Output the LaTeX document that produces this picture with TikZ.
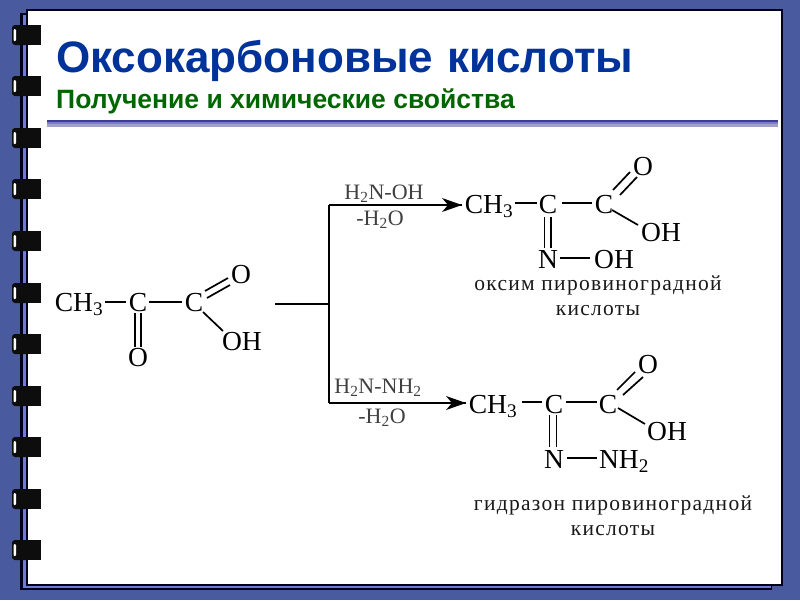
\documentclass[tikz,border=0pt]{standalone}
\usepackage{fontspec}
\setmainfont{Liberation Serif}
\newfontfamily\sansb{Liberation Sans}
\newfontfamily\capfont[LetterSpace=6]{Liberation Serif}
\definecolor{frameblue}{HTML}{4A5A9E}
\definecolor{inner}{HTML}{6E7AD6}
\definecolor{edge}{HTML}{00001E}
\definecolor{ruledark}{HTML}{3C3C96}
\definecolor{rulemid}{HTML}{7C7CC8}
\definecolor{rulelow}{HTML}{A0A0C8}
\definecolor{titleblue}{HTML}{003399}
\definecolor{subgreen}{HTML}{006600}
\tikzset{
  x=1pt,y=-1pt,
  chem/.style={font=\fontsize{27.5}{30}\selectfont,inner sep=0pt,text=black,anchor=base},
  reag/.style={font=\fontsize{22}{24}\selectfont,inner sep=0pt,text=black!75,anchor=base},
  capt/.style={font=\capfont\fontsize{21.5}{24.7}\selectfont,inner sep=0pt,align=center,anchor=center,text=black!90},
  bond/.style={line width=1.7pt,black},
  arrowline/.style={line width=1.7pt,black},
}
\newcommand{\ring}[1]{%
  \fill[black!95,rounded corners=3pt] (12,#1) rectangle (30,#1+20);
  \fill[black!95] (20,#1) rectangle (41,#1+20);
  \fill[white,rounded corners=1pt] (13.5,#1+4) rectangle (16,#1+16);
}
\begin{document}
\begin{tikzpicture}
\useasboundingbox (0,0) rectangle (800,600);
\fill[frameblue] (0,0) rectangle (800,600);
\fill[edge] (20,13) rectangle (772,590);
\fill[inner] (22.5,15) rectangle (770.5,587.5);
\fill[edge] (26,9) rectangle (783,585.5);
\fill[white] (28,11) rectangle (781,583.5);
\foreach \y in {25,76,128,179,231,283,334,386,437,489,540} {\ring{\y}}
\fill[ruledark] (47,120) rectangle (778,122);
\fill[rulemid] (47,122) rectangle (778,124);
\fill[rulelow] (47,124) rectangle (778,127);
\node[anchor=base west,inner sep=0pt,text=titleblue,font=\sansb\bfseries\fontsize{44}{46}\selectfont] (title) at (56,72.5) {Оксокарбоновые\hspace{2pt} кислоты};
\node[anchor=base west,inner sep=0pt,text=subgreen,font=\sansb\bfseries\fontsize{26.5}{28}\selectfont] (sub) at (56,108) {Получение и химические свойства};
% left molecule
\node[chem] (a1) at (79,311.5) {CH\textsubscript{3}};
\node[chem] (a2) at (138,311.5) {C};
\node[chem] (a3) at (194,311.5) {C};
\node[chem] (a4) at (241,283) {O};
\node[chem] (a5) at (242,350.5) {OH};
\node[chem] (a6) at (138,366.5) {O};
\draw[bond] (105,302) -- (126,302);
\draw[bond] (149,302) -- (182,302);
\draw[bond] (135,313) -- (135,347);
\draw[bond] (141,313) -- (141,347);
\draw[bond] (205,291) -- (228,278);
\draw[bond] (207,298) -- (230,285);
\draw[bond] (203,312) -- (223,331);
% branch
\coordinate (b0) at (275,304);
\coordinate (bj) at (329,304);
\coordinate (bt) at (329,205);
\coordinate (bb) at (329,403);
\draw[arrowline] (b0) -- (bj);
\draw[arrowline] (bj) -- (bb);
\draw[arrowline] (bj) -- (bt);
\coordinate (ta) at (462,205);
\coordinate (tb) at (466,403);
\draw[arrowline] (bt) -- (ta);
\draw[arrowline] (bb) -- (tb);
\fill (ta) -- ++(-20,-7) -- ++(6,7) -- ++(-6,7) -- cycle;
\fill (tb) -- ++(-20,-7) -- ++(6,7) -- ++(-6,7) -- cycle;
\node[reag] (r1) at (384,199) {H\textsubscript{2}N-OH};
\node[reag] (r2) at (380,225.5) {-H\textsubscript{2}O};
\node[reag] (r3) at (378,393) {H\textsubscript{2}N-NH\textsubscript{2}};
\node[reag] (r4) at (382,423.5) {-H\textsubscript{2}O};
% top product
\node[chem] (c1) at (489,213) {CH\textsubscript{3}};
\node[chem] (c2) at (548,213) {C};
\node[chem] (c3) at (604,213) {C};
\node[chem] (c4) at (643,175) {O};
\node[chem] (c5) at (661,241.5) {OH};
\node[chem] (c6) at (548,268.5) {N};
\node[chem] (c7) at (614,268.5) {OH};
\draw[bond] (515,203) -- (537,203);
\draw[bond] (562,203) -- (592,203);
\draw[bond] (544.5,217) -- (544.5,248);
\draw[bond] (551,217) -- (551,248);
\draw[bond] (613,190) -- (630,172);
\draw[bond] (620,195) -- (637,177);
\draw[bond] (612,210) -- (638,225);
\draw[bond] (560,258) -- (590,258);
% bottom product
\node[chem] (d1) at (493,413) {CH\textsubscript{3}};
\node[chem] (d2) at (554,413) {C};
\node[chem] (d3) at (608,413) {C};
\node[chem] (d4) at (648,373) {O};
\node[chem] (d5) at (667,440) {OH};
\node[chem] (d6) at (554,468) {N};
\node[chem] (d7) at (624,468) {NH\textsubscript{2}};
\draw[bond] (522,402) -- (542,402);
\draw[bond] (566,402) -- (597,402);
\draw[bond] (549.5,415) -- (549.5,447);
\draw[bond] (556.5,415) -- (556.5,447);
\draw[bond] (617,390) -- (635,372);
\draw[bond] (623,395) -- (643,377);
\draw[bond] (618,408) -- (645,424);
\draw[bond] (567,458) -- (597,458);
\node[capt] (k1) at (598,296) {оксим пировиноградной\\кислоты};
\node[capt] (k2) at (613,516) {гидразон пировиноградной\\кислоты};
\end{tikzpicture}
\end{document}
